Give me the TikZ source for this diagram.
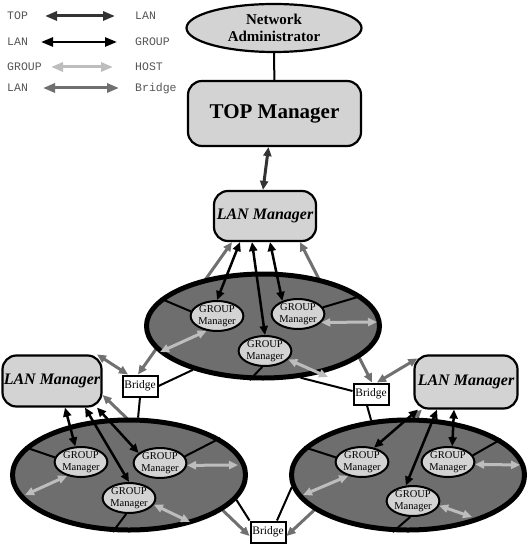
\documentclass[tikz,border=0pt]{standalone}
\usepackage{fontspec}
\setmainfont{Liberation Serif}
\setmonofont{Liberation Mono}
\usetikzlibrary{arrows.meta}
\usetikzlibrary{shapes.geometric}

\definecolor{boxgray}{HTML}{D3D3D3}
\definecolor{langray}{HTML}{6E6E6E}
\definecolor{topgray}{HTML}{333333}
\definecolor{hostgray}{HTML}{BDBDBD}
\definecolor{briggray}{HTML}{707070}
\definecolor{leggray}{HTML}{555555}

\tikzset{
 tips/.style={{Triangle[length=9pt,width=8pt]}-{Triangle[length=9pt,width=8pt]}},
 legtips/.style={{Triangle[length=12pt,width=9pt]}-{Triangle[length=12pt,width=9pt]}},
 legtxt/.style={anchor=base west,inner sep=0pt,text=leggray,font=\ttfamily\fontsize{11.5}{11.5}\selectfont},
 mgr/.style={draw,line width=2.2pt,fill=boxgray,rounded corners=14pt,inner sep=0pt},
 lanmgr/.style={mgr,font=\bfseries\itshape\fontsize{16}{16}\selectfont},
 admin/.style={ellipse,draw,line width=2.2pt,fill=boxgray,inner sep=0pt,align=center,
   minimum width=175pt,minimum height=48pt,font=\bfseries\fontsize{15}{17}\selectfont},
 lanring/.style={ellipse,draw,line width=5pt,fill=langray,minimum width=233pt},
 grp/.style={ellipse,draw,line width=2pt,fill=boxgray,minimum width=50pt,minimum height=30pt,
   inner sep=0pt,align=center,font=\fontsize{10.5}{11.5}\selectfont},
 brg/.style={draw,line width=2pt,fill=white,minimum width=35pt,minimum height=21pt,inner sep=0pt,
   font=\fontsize{11.5}{11.5}\selectfont},
 wire/.style={line width=2pt},
 toplan/.style={tips,line width=3pt,topgray},
 langrp/.style={tips,line width=2.5pt,black},
 grphost/.style={tips,line width=3pt,hostgray},
 lanbrg/.style={tips,line width=3pt,briggray}
}

\begin{document}
\begin{tikzpicture}[x=1pt,y=-1pt]
 \useasboundingbox (0,0) rectangle (531,545);

 % legend
 \node[legtxt] (lega1) at (7,19.5) {TOP};
 \node[legtxt] (legb1) at (135,19.5) {LAN};
 \node[legtxt] (lega2) at (7,46) {LAN};
 \node[legtxt] (legb2) at (135,46) {GROUP};
 \node[legtxt] (lega3) at (7,71) {GROUP};
 \node[legtxt] (legb3) at (135,71) {HOST};
 \node[legtxt] (lega4) at (7,92) {LAN};
 \node[legtxt] (legb4) at (135,92) {Bridge};
 \coordinate (arra1) at (45,16);  \coordinate (arrb1) at (115,16);
 \coordinate (arra2) at (41,42);  \coordinate (arrb2) at (117,42);
 \coordinate (arra3) at (51,67);  \coordinate (arrb3) at (113,67);
 \coordinate (arra4) at (43,88);  \coordinate (arrb4) at (119,88);
 \draw[toplan,legtips] (arra1) -- (arrb1);
 \draw[langrp,legtips] (arra2) -- (arrb2);
 \draw[grphost,legtips] (arra3) -- (arrb3);
 \draw[lanbrg,legtips] (arra4) -- (arrb4);

 % managers
 \node[admin] (na) at (274,28) {Network\\Administrator};
 \node[mgr,minimum width=173pt,minimum height=65pt,font=\bfseries\fontsize{21}{21}\selectfont]
   (top) at (274.5,113.5) {TOP Manager};
 \draw[wire] (na) -- (top);
 \node[lanmgr,minimum width=102pt,minimum height=50pt] (lanT) at (265,216) {LAN Manager};
 \node[lanmgr,minimum width=99pt,minimum height=51pt] (lanL) at (52,381) {LAN Manager};
 \node[lanmgr,minimum width=103pt,minimum height=53pt] (lanR) at (466,382) {LAN Manager};

 % bridges
 \node[brg] (bL) at (140,386) {Bridge};
 \node[brg] (bR) at (371,394) {Bridge};
 \node[brg] (bB) at (268,532) {Bridge};

 % LAN - Bridge (under the rings)
 \draw[lanbrg] ([xshift=-33pt]lanT.south) -- ([xshift=-2pt]bL.north);
 \draw[lanbrg] ([xshift=35pt]lanT.south) -- ([xshift=1pt]bR.north);
 \draw[lanbrg] ([xshift=45pt]lanL.north) -- ([xshift=-12pt]bL.north);
 \draw[lanbrg] ([yshift=-14pt]lanL.east) -- ([yshift=-4pt]bB.west);
 \draw[lanbrg] ([xshift=-44pt]lanR.south) -- ([yshift=-4pt]bB.east);
 \draw[lanbrg] ([xshift=4pt,yshift=-4pt]lanR.north west) -- ([xshift=6pt]bR.north);

 % LAN rings
 \node[lanring,minimum height=104pt] (e1) at (263,326) {};
 \node[lanring,minimum height=110pt] (e2) at (129,475) {};
 \node[lanring,minimum height=110pt] (e3) at (408,475) {};

 % group managers
 \node[grp] (g1a) at (217,316) {GROUP\\Manager};
 \node[grp] (g1b) at (298,314) {GROUP\\Manager};
 \node[grp] (g1c) at (265,351) {GROUP\\Manager};
 \node[grp] (g2a) at (81,462) {GROUP\\Manager};
 \node[grp] (g2b) at (160,463) {GROUP\\Manager};
 \node[grp] (g2c) at (129,498) {GROUP\\Manager};
 \node[grp] (g3a) at (362,462) {GROUP\\Manager};
 \node[grp] (g3b) at (448,462) {GROUP\\Manager};
 \node[grp] (g3c) at (413,501) {GROUP\\Manager};

 % segments inside rings
 \draw[wire] (e1.165) -- (g1a.170);
 \draw[wire] (g1b.15) -- (e1.17);
 \draw[wire] (g1c.260) -- (e1.256);
 \draw[wire] (e2.165) -- (g2a.170);
 \draw[wire] (g2b.15) -- (e2.22);
 \draw[wire] (g2c.260) -- (e2.254);
 \draw[wire] (e3.165) -- (g3a.170);
 \draw[wire] (g3b.15) -- (e3.21);
 \draw[wire] (g3c.260) -- (e3.255);

 % bridge wires
 \draw[wire] (bL.east) -- (e1.212);
 \draw[wire] (bL.south) -- (e2.81);
 \draw[wire] (e1.306) -- ([yshift=3pt]bR.west);
 \draw[wire] ([xshift=-4pt]bR.south) -- (e3.124);
 \draw[wire] (e2.347) -- (bB.north west);
 \draw[wire] ([xshift=9pt]bB.north) -- (e3.186);

 % TOP - LAN
 \draw[toplan] ([xshift=-6pt]top.south) -- ([xshift=-2pt]lanT.north);

 % LAN - GROUP
 \draw[langrp] ([xshift=-25pt]lanT.south) -- (g1a.north);
 \draw[langrp] ([xshift=-13pt]lanT.south) -- (g1c.north);
 \draw[langrp] ([xshift=5pt]lanT.south) -- (g1b.140);
 \draw[langrp] ([xshift=13pt]lanL.south) -- (g2a.110);
 \draw[langrp] ([xshift=33pt]lanL.south) -- (g2c.north);
 \draw[langrp] ([xshift=45pt]lanL.south) -- (g2b.155);
 \draw[langrp] ([xshift=-48pt]lanR.south) -- (g3a.50);
 \draw[langrp] ([xshift=-29pt]lanR.south) -- (g3c.115);
 \draw[langrp] ([xshift=-12pt]lanR.south) -- (g3b.75);

 % GROUP - HOST
 \coordinate (h1a) at (160,352); \coordinate (h1b) at (377,322); \coordinate (h1c) at (328,377);
 \coordinate (h2a) at (25,495);  \coordinate (h2b) at (238,465); \coordinate (h2c) at (190,522);
 \coordinate (h3a) at (303,495); \coordinate (h3b) at (520,465); \coordinate (h3c) at (472,517);
 \draw[grphost] (g1a.235) -- (h1a);
 \draw[grphost] (g1b.340) -- (h1b);
 \draw[grphost] (g1c.340) -- (h1c);
 \draw[grphost] (g2a.225) -- (h2a);
 \draw[grphost] (g2b.355) -- (h2b);
 \draw[grphost] (g2c.345) -- (h2c);
 \draw[grphost] (g3a.225) -- (h3a);
 \draw[grphost] (g3b.355) -- (h3b);
 \draw[grphost] (g3c.350) -- (h3c);
\end{tikzpicture}
\end{document}
